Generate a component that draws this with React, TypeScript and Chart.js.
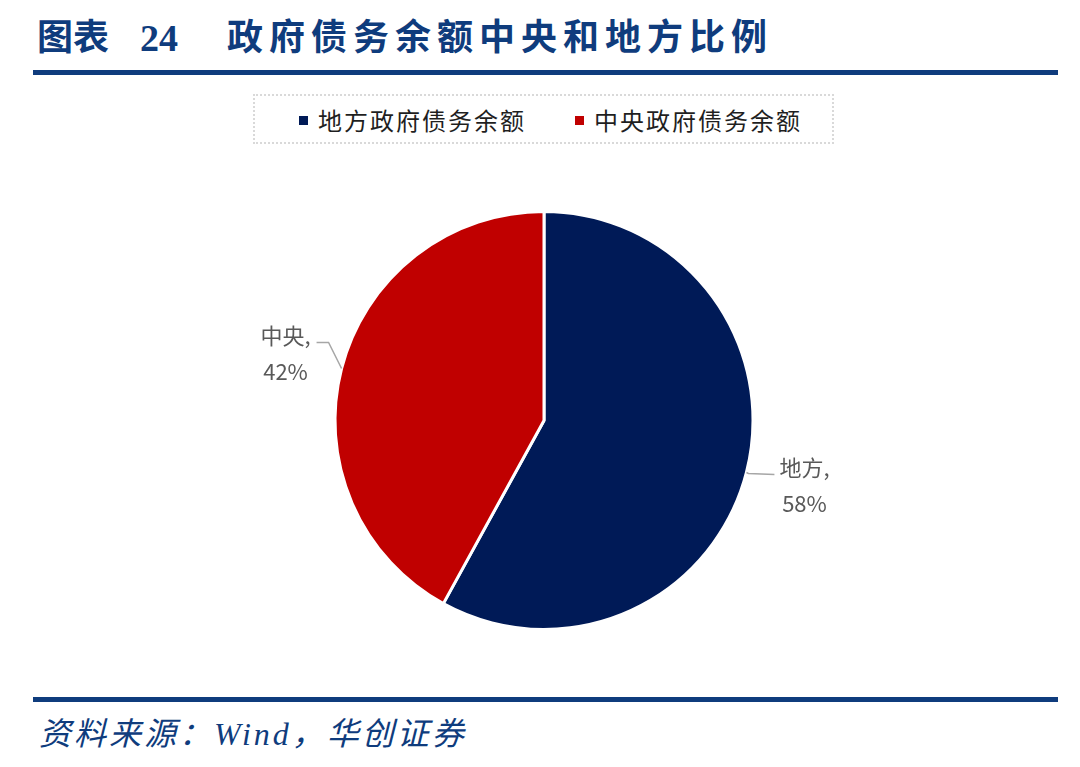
import { useEffect, useRef } from "react"
import { Chart, registerables } from "chart.js"

Chart.register(...registerables)

const categories = ["地方政府债务余额", "中央政府债务余额"]
const shortNames = ["地方", "中央"]
const shares = [58, 42]
const colors = ["#001a57", "#c00000"]

const BLUE = "#0f3c7d"
const LABEL_FONT = '22px "Noto Sans CJK SC", "Noto Sans", sans-serif'

// draws "地方, / 58%" labels with leader lines outside each slice
const outsideLabels = {
  id: "outsideLabels",
  afterDatasetsDraw(chart: Chart) {
    const ctx = chart.ctx
    const meta = chart.getDatasetMeta(0)
    const values = chart.data.datasets[0].data as number[]
    const total = values.reduce((a, b) => a + b, 0)
    meta.data.forEach((el: any, i: number) => {
      const { x, y, startAngle, endAngle, outerRadius } = el.getProps(
        ["x", "y", "startAngle", "endAngle", "outerRadius"],
        true
      )
      const mid = (startAngle + endAngle) / 2
      const ex = x + Math.cos(mid) * outerRadius
      const ey = y + Math.sin(mid) * outerRadius
      const right = Math.cos(mid) > 0
      let elbowX = ex
      let elbowY = ey
      let endX: number
      let endY: number
      if (right) {
        endX = ex + 28
        endY = ey + 2
        elbowX = ex + 2
        elbowY = ey + 1
      } else {
        elbowX = ex - 13
        elbowY = ey - 26
        endX = elbowX - 12
        endY = elbowY
      }
      ctx.save()
      ctx.strokeStyle = "#a6a6a6"
      ctx.lineWidth = 1.5
      ctx.beginPath()
      ctx.moveTo(ex, ey)
      ctx.lineTo(elbowX, elbowY)
      ctx.lineTo(endX, endY)
      ctx.stroke()

      const line1 = shortNames[i] + ","
      const line2 = Math.round((values[i] / total) * 100) + "%"
      ctx.font = LABEL_FONT
      ctx.fillStyle = "#595959"
      ctx.textBaseline = "middle"
      ctx.textAlign = "center"
      const w = Math.max(ctx.measureText(line1).width, ctx.measureText(line2).width)
      const cxText = right ? endX + 5 + w / 2 : endX - 6 - w / 2
      ctx.fillText(line1, cxText, endY - 7)
      ctx.fillText(line2, cxText, endY + 29)
      ctx.restore()
    })
  },
}

function PieChart() {
  const chartRef = useRef<HTMLCanvasElement>(null)
  const chartInstance = useRef<Chart | null>(null)

  useEffect(() => {
    if (!chartRef.current) return
    const ctx = chartRef.current.getContext("2d")
    if (!ctx) return

    if (chartInstance.current) {
      chartInstance.current.destroy()
    }

    chartInstance.current = new Chart(ctx, {
      type: "pie",
      data: {
        labels: categories,
        datasets: [
          {
            data: shares,
            backgroundColor: colors,
            borderColor: "#ffffff",
            borderWidth: 3,
          },
        ],
      },
      options: {
        responsive: true,
        maintainAspectRatio: false,
        animation: false,
        layout: {
          padding: { left: 8, right: 0, top: 60, bottom: 61 },
        },
        plugins: {
          legend: { display: false },
          tooltip: { enabled: false },
        },
      },
      plugins: [outsideLabels],
    })

    return () => {
      if (chartInstance.current) {
        chartInstance.current.destroy()
        chartInstance.current = null
      }
    }
  }, [])

  return (
    <div style={{ position: "absolute", left: 0, top: 150, width: 1080, height: 542 }}>
      <canvas ref={chartRef}></canvas>
    </div>
  )
}

export default function App() {
  const legendLeft = [299, 575]
  return (
    <div
      style={{
        position: "absolute",
        left: 0,
        top: 0,
        width: 1080,
        height: 767,
        background: "#ffffff",
        overflow: "hidden",
      }}
    >
      {/* title */}
      <div
        style={{
          position: "absolute",
          left: 37,
          top: 14,
          height: 48,
          lineHeight: "48px",
          fontSize: 36,
          fontWeight: 700,
          color: BLUE,
          fontFamily: '"Liberation Serif", "Noto Sans CJK SC", serif',
          whiteSpace: "nowrap",
        }}
      >
        <span>图表</span>
        <span style={{ position: "absolute", left: 103, fontSize: 38 }}>24</span>
        <span style={{ position: "absolute", left: 190, letterSpacing: 6 }}>
          政府债务余额中央和地方比例
        </span>
      </div>
      <div style={{ position: "absolute", left: 33, top: 70, width: 1025, height: 5, background: BLUE }} />

      {/* legend */}
      <div
        style={{
          position: "absolute",
          left: 253,
          top: 94,
          width: 581,
          height: 50,
          boxSizing: "border-box",
          border: "2px dotted #d9d9d9",
        }}
      />
      {categories.map((c, i) => (
        <div
          key={c}
          style={{
            position: "absolute",
            left: legendLeft[i],
            top: 104,
            height: 32,
            lineHeight: "32px",
            display: "flex",
            alignItems: "center",
            fontFamily: '"Noto Sans CJK SC", sans-serif',
            fontSize: 24,
            letterSpacing: 2,
            color: "#1f1f1f",
            whiteSpace: "nowrap",
          }}
        >
          <span style={{ display: "inline-block", width: 9, height: 9, background: colors[i], marginRight: 10 }} />
          <span>{c}</span>
        </div>
      ))}

      <PieChart />

      {/* footer */}
      <div style={{ position: "absolute", left: 33, top: 697, width: 1025, height: 5, background: BLUE }} />
      <div
        style={{
          position: "absolute",
          left: 39,
          top: 712,
          height: 44,
          lineHeight: "44px",
          fontSize: 32,
          fontStyle: "italic",
          color: BLUE,
          letterSpacing: 3,
          fontFamily: '"Liberation Serif", "Noto Sans CJK SC", serif',
          whiteSpace: "nowrap",
        }}
      >
        资料来源：Wind，华创证券
      </div>
    </div>
  )
}
